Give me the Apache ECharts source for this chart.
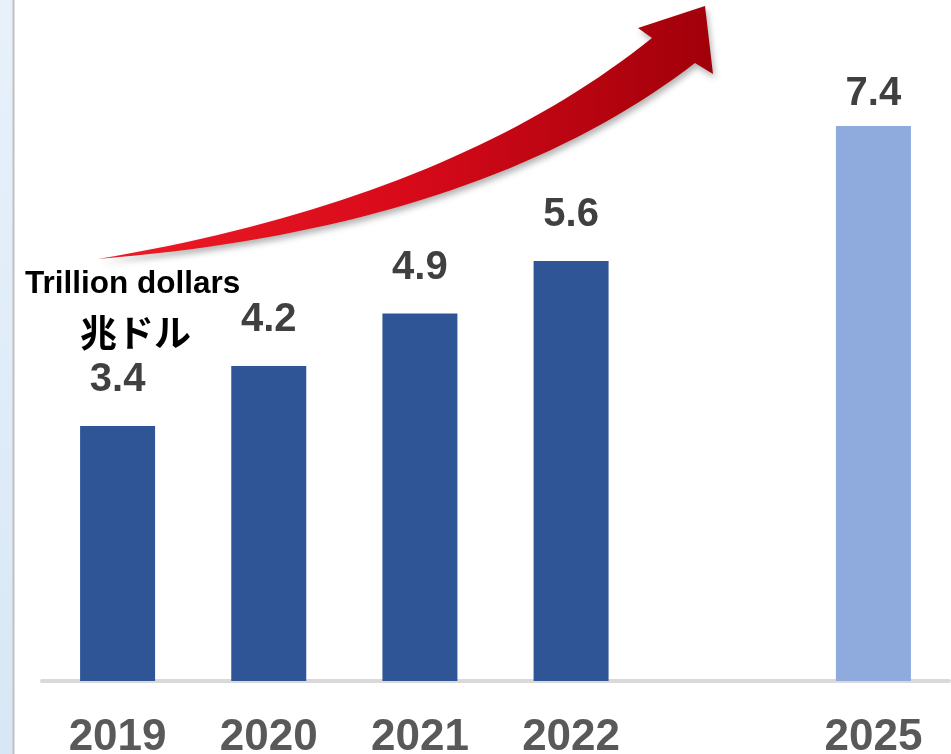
<!DOCTYPE html>
<html><head><meta charset="utf-8">
<script src="https://cdn.jsdelivr.net/npm/echarts@6/dist/echarts.min.js"></script>
<style>html,body{margin:0;padding:0;background:#fff}#c{width:951px;height:754px}</style>
</head><body><div id="c"></div>
<script>
const categories = ['2019', '2020', '2021', '2022', '', '2025'];
const values = [3.4, 4.2, 4.9, 5.6, null, 7.4];
const unitEn = 'Trillion dollars';
const unitJa = '兆ドル';

const dark = '#2f5597', light = '#8faadc';
const data = values.map((v, i) => {
  if (v === null) return '-';
  const item = { value: v, itemStyle: { color: categories[i] === '2025' ? light : dark } };
  if (categories[i] === '2025') item.label = { distance: 12 };
  return item;
});

// decorative arrow outline (quadratic curves sampled)
function quad(p0, c, p1, n) {
  const pts = [];
  for (let k = 0; k <= n; k++) {
    const t = k / n, u = 1 - t;
    pts.push([u * u * p0[0] + 2 * u * t * c[0] + t * t * p1[0], u * u * p0[1] + 2 * u * t * c[1] + t * t * p1[1]]);
  }
  return pts;
}
const arrowPts = [].concat(
  quad([98, 259], [450, 200], [652, 38], 40),
  [[638, 28], [705, 6], [713, 74]],
  quad([695, 63], [480, 228], [98, 259], 40)
);

const chart = echarts.init(document.getElementById('c'));
chart.setOption({
  animation: false,
  backgroundColor: '#fff',
  grid: { left: 42, right: 2, top: 81, bottom: 73, outerBoundsMode: 'none', containLabel: false },
  xAxis: {
    type: 'category', data: categories,
    axisLine: { lineStyle: { color: '#d9d9d9', width: 4 } },
    axisTick: { show: false },
    axisLabel: { interval: 0, color: '#595959', fontFamily: '"Liberation Sans Narrow","Arial Narrow","Liberation Sans",sans-serif', fontWeight: 'bold', fontSize: 44, margin: 35 }
  },
  yAxis: { type: 'value', min: 0, max: 8, show: false, splitLine: { show: false } },
  series: [{
    type: 'bar', data: data, barWidth: 75,
    label: { show: true, position: 'top', distance: 26, color: '#404040', fontFamily: '"Liberation Sans",Arial,sans-serif', fontWeight: 'bold', fontSize: 40 }
  }],
  graphic: [
    { type: 'rect', shape: { x: 0, y: 0, width: 13, height: 754 }, style: { fill: new echarts.graphic.LinearGradient(0, 0, 0, 1, [{ offset: 0, color: '#e8f1fa' }, { offset: 1, color: '#d8e7f5' }]) }, z: 100 },
    { type: 'line', shape: { x1: 13.5, y1: 0, x2: 13.5, y2: 754 }, style: { stroke: '#c0c0c0', lineWidth: 2 }, z: 100 },
    { type: 'polygon', z: 50,
      shape: { points: arrowPts },
      style: { fill: new echarts.graphic.LinearGradient(0, 0, 1, 0, [{ offset: 0, color: '#ee1c25' }, { offset: 0.5, color: '#d80a1a' }, { offset: 1, color: '#a0000a' }]),
        shadowBlur: 6, shadowColor: 'rgba(0,0,0,0.3)', shadowOffsetX: 2, shadowOffsetY: 4 } },
    { type: 'text', z: 60, style: { text: unitEn, x: 25, y: 284, textVerticalAlign: 'middle', font: 'bold 31.5px "Liberation Sans", Arial, sans-serif', fill: '#000' } },
    { type: 'text', z: 60, style: { text: unitJa, x: 80, y: 333, textVerticalAlign: 'middle', font: 'bold 37px "Noto Sans CJK JP", sans-serif', fill: '#000' } }
  ]
});
</script></body></html>
